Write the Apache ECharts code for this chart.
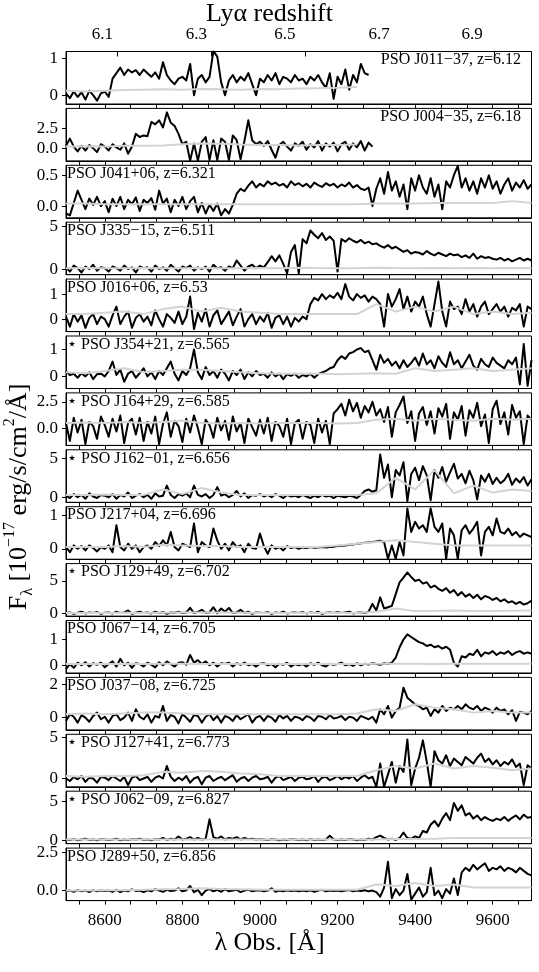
<!DOCTYPE html>
<html><head><meta charset="utf-8">
<script src="https://cdn.jsdelivr.net/npm/echarts@6/dist/echarts.min.js"></script>
<style>html,body{margin:0;padding:0;background:#fff}#c{width:539px;height:972px}</style>
</head><body><div id="c"></div>
<script>
// ---------------- data ----------------
const lambdaStart = 8500;      // first wavelength sample [Å]
const fluxStep = 10;           // flux sampling [Å]
const errStep = 50;            // error-spectrum sampling [Å]

const objectNames = ['PSO J011−37, z=6.12','PSO J004−35, z=6.18','PSO J041+06, z=6.321','PSO J335−15, z=6.511','PSO J016+06, z=6.53','⋆ PSO J354+21, z=6.565','⋆ PSO J164+29, z=6.585','⋆ PSO J162−01, z=6.656','PSO J217+04, z=6.696','⋆ PSO J129+49, z=6.702','PSO J067−14, z=6.705','PSO J037−08, z=6.725','⋆ PSO J127+41, z=6.773','⋆ PSO J062−09, z=6.827','PSO J289+50, z=6.856'];

const xLabelValues = [8600, 8800, 9000, 9200, 9400, 9600];
const zTickLabels = ['6.1','6.3','6.5','6.7','6.9'];
const zTickLambda = [8631, 8874, 9118, 9361, 9604];
const zLabelLambda = [8594, 8836, 9064, 9307, 9547];

const yRanges = [[-0.24,1.19],[-1.6,5.0],[-0.19,0.66],[-0.66,5.47],[-0.5,1.6],[-0.45,1.5],[-1.62,3.34],[-0.65,6.1],[-0.31,1.25],[-0.36,7.65],[-0.3,1.74],[-0.74,2.42],[-1.0,5.33],[-0.44,6.33],[-0.66,2.8]];
const yTickValues = [[0,1],[0,2.5],[0,0.5],[0,5],[0,1],[0,1],[0,2.5],[0,5],[0,1],[0,5],[0,1],[0,2],[0,5],[0,5],[0,2.5]];
const yTickDecimals = [0,1,1,0,0,0,1,0,0,0,0,0,0,0,1];

const flux_J011 = [
0.05,-0.08,0.1,-0.05,0.08,-0.12,0.12,0.0,-0.15,0.05,
0.1,-0.05,0.45,0.6,0.75,0.55,0.7,0.62,0.68,0.55,
0.7,0.6,0.5,0.62,0.45,0.9,0.55,0.4,0.3,0.45,
0.5,0.4,0.85,0.0,0.45,0.55,0.35,0.5,1.2,1.05,
0.35,0.0,0.4,0.55,0.35,0.5,0.4,0.6,0.3,0.0,
0.45,0.35,0.55,0.4,0.6,0.3,0.5,0.45,0.35,0.55,
0.4,0.45,0.3,0.5,0.4,0.55,0.35,0.2,0.6,-0.1,
0.5,0.3,0.7,0.15,0.55,0.35,0.85,0.6,0.55];
const flux_J004 = [
0.3,1.2,0.2,-0.4,0.3,-0.3,0.4,0.0,-0.5,0.5,
0.2,-0.3,0.5,0.1,-0.2,0.6,-0.7,0.2,1.8,1.4,
1.6,1.5,3.3,3.0,3.5,2.6,4.5,3.2,2.8,1.8,
0.5,0.8,-1.6,0.6,-1.6,0.8,1.4,-1.5,1.0,-1.5,
1.2,0.8,-1.5,1.6,1.0,-1.4,0.9,3.5,1.0,0.5,
0.8,0.3,0.9,-0.2,-1.2,0.4,0.8,0.2,-0.3,0.6,
0.3,0.8,-0.2,0.5,0.1,0.9,-0.3,0.6,0.2,0.7,
-0.4,0.5,0.8,-0.2,0.6,0.1,0.9,-0.3,0.7,0.2];
const flux_J041 = [
-0.12,-0.15,0.05,0.25,0.1,-0.05,0.12,0.02,0.15,0.0,
0.08,-0.1,0.12,0.0,0.15,-0.05,0.1,0.03,0.14,-0.08,
0.1,0.05,0.13,-0.06,0.25,0.04,0.12,-0.1,0.1,0.0,
0.15,-0.05,0.08,0.15,-0.1,0.05,-0.12,0.02,-0.08,0.04,
-0.15,-0.05,-0.12,0.02,0.2,0.28,0.24,0.33,0.4,0.3,
0.36,0.32,0.4,0.35,0.38,0.33,0.36,0.3,0.4,0.34,
0.37,0.32,0.36,0.3,0.38,0.34,0.31,0.37,0.33,0.36,
0.3,0.35,0.32,0.38,0.3,0.34,0.28,0.26,0.3,0.0,
0.28,0.45,0.2,0.55,0.25,0.4,0.15,0.35,-0.05,0.45,
0.25,0.5,0.3,0.2,0.45,0.15,0.35,-0.05,0.4,0.3,
0.5,0.65,0.3,0.45,0.25,0.4,0.2,0.45,0.3,0.5,
0.28,0.4,0.2,0.35,0.45,0.25,0.38,0.3,0.42,0.28,
0.35];
const flux_J335 = [
0.2,-0.3,0.4,0.1,-0.4,0.3,0.0,0.5,-0.2,0.2,
0.1,-0.3,0.3,0.1,-0.2,0.4,0.0,0.2,-0.4,0.3,
0.1,0.2,-0.3,0.4,0.0,0.2,-0.2,0.5,0.1,-0.3,
0.3,0.1,0.4,-0.2,0.2,0.0,0.3,-0.3,0.5,0.1,
0.2,-0.2,0.3,0.1,1.0,0.4,-0.2,0.3,0.5,0.1,
0.4,0.2,0.8,1.5,0.9,1.6,0.6,-0.5,2.0,2.8,
-0.5,3.5,3.0,4.5,4.0,3.6,4.2,3.4,3.8,3.3,
-0.3,3.5,3.2,3.6,3.3,3.1,3.4,3.0,3.2,2.9,
3.0,2.7,2.5,2.8,2.4,2.6,2.3,2.0,2.2,1.8,
2.0,1.9,1.7,2.1,1.8,1.6,1.9,1.7,1.5,1.8,
1.6,1.7,1.4,1.6,1.3,1.8,1.2,1.5,1.3,1.4,
1.2,1.1,1.3,1.0,1.2,0.9,1.1,1.3,1.0,1.2,
1.0];
const flux_J016 = [
0.1,-0.3,0.2,-0.1,0.15,-0.35,0.05,0.2,-0.2,0.1,
0.0,-0.3,0.15,0.5,-0.2,0.1,0.3,-0.35,0.05,0.2,
-0.1,0.1,-0.25,0.35,0.0,-0.3,0.2,0.05,-0.15,0.3,
-0.2,0.1,0.9,-0.4,0.25,-0.1,0.4,-0.3,0.15,0.35,
-0.2,0.05,0.3,-0.25,0.1,0.4,-0.3,0.0,0.2,-0.2,
0.1,-0.1,0.25,-0.35,0.05,0.15,-0.2,0.1,-0.3,0.05,
-0.1,0.1,0.0,0.6,0.85,0.75,1.0,0.8,0.95,0.85,
1.05,0.8,1.4,0.9,0.75,1.0,0.85,0.95,0.7,0.9,
0.8,0.6,-0.3,1.0,0.5,0.8,1.2,0.4,0.9,0.3,
0.7,0.5,0.9,0.2,-0.3,0.6,1.5,0.3,-0.3,0.7,
0.4,0.5,0.2,0.8,0.3,0.6,0.1,0.5,0.7,0.2,
0.4,0.6,0.3,0.5,0.1,0.45,0.35,0.6,-0.3,0.5,
0.4];
const flux_J354 = [
0.2,0.05,0.1,-0.05,0.12,0.0,0.15,-0.1,0.08,0.1,
0.0,0.2,0.55,0.05,0.25,-0.2,0.1,0.2,-0.05,0.12,
0.3,0.0,0.15,-0.1,0.2,0.05,0.3,0.55,0.1,-0.15,
0.2,0.05,0.3,1.0,0.15,-0.1,0.35,0.05,0.2,-0.05,
0.25,0.1,-0.15,0.2,0.05,0.25,-0.1,0.15,0.0,0.2,
0.05,0.1,-0.05,0.15,0.0,0.1,-0.1,0.08,0.02,0.1,
-0.05,0.05,0.0,0.1,-0.05,0.08,0.15,0.2,0.3,0.35,
0.6,0.75,0.65,0.85,0.9,1.0,1.05,0.9,0.95,0.6,
0.25,0.8,0.5,0.65,0.4,0.55,0.3,0.6,0.35,0.5,
0.7,0.4,0.85,0.45,0.6,0.3,0.75,0.5,0.35,0.9,
0.45,0.6,0.3,0.55,0.8,0.4,0.25,0.65,0.45,0.35,
0.7,0.5,0.4,0.3,0.6,0.45,0.7,-0.3,1.2,-0.35,
0.6];
const flux_J164 = [
0.5,-1.2,1.0,-0.4,0.8,-1.5,0.6,0.2,-1.0,1.1,
0.3,-0.8,0.9,-0.3,1.2,-1.4,0.5,0.9,-0.6,1.0,
-1.2,0.6,-0.5,1.1,-1.5,0.4,1.5,-0.8,0.7,0.2,
-1.3,0.9,-0.4,1.2,0.0,-1.5,0.8,0.3,-0.9,1.0,
-0.2,0.7,-1.1,1.1,-0.3,0.5,-1.4,0.9,0.1,-0.7,
0.8,-0.5,1.0,-1.2,0.6,0.2,-0.8,0.9,-1.5,0.5,
0.8,-1.0,0.6,0.3,-1.4,0.9,-0.4,0.7,-1.5,1.4,
1.8,2.3,1.2,2.7,1.6,2.4,1.0,2.1,1.5,2.5,
1.2,1.8,0.6,2.0,-0.8,1.5,2.2,3.0,0.5,1.6,
-1.2,1.4,2.0,0.3,1.6,-0.5,1.9,1.1,2.3,-1.0,
1.5,0.8,2.1,-0.7,1.7,1.0,2.4,0.2,1.3,-1.4,
1.8,2.6,0.4,1.5,-0.6,2.2,1.0,1.6,-1.5,1.2,
0.8];
const flux_J162 = [
0.2,-0.1,0.4,0.0,0.3,-0.2,0.5,0.1,-0.1,0.3,
0.2,0.0,0.4,-0.2,0.3,0.1,0.6,-0.1,0.2,0.4,
0.0,0.3,-0.2,0.5,0.1,0.2,1.5,0.3,-0.1,0.4,
0.2,0.5,0.0,1.5,0.3,0.1,0.4,-0.1,0.3,1.3,
0.2,0.4,0.0,0.3,0.8,0.1,0.5,-0.1,0.3,0.2,
0.4,0.1,0.3,0.0,0.4,0.2,-0.1,0.3,0.1,0.2,
0.0,0.3,0.1,-0.1,0.2,0.0,0.3,0.1,0.2,-0.1,
0.2,0.1,0.0,0.2,0.1,-0.1,0.3,0.8,1.0,0.7,
0.9,5.5,2.5,4.2,0.0,3.5,2.8,4.5,-0.5,3.0,
3.8,2.2,4.0,2.8,-0.4,3.5,2.5,3.9,2.0,3.2,
4.3,2.4,3.0,1.8,3.4,2.2,-0.3,2.8,2.0,3.0,
1.7,2.5,1.8,2.2,3.0,1.6,2.4,1.9,2.6,1.5,
2.3];
const flux_J217 = [
0.05,-0.1,0.1,0.0,0.08,-0.05,0.1,0.02,-0.08,0.05,
0.0,0.1,-0.1,0.7,0.05,-0.05,0.15,0.0,0.1,-0.1,
0.05,0.1,0.0,0.2,0.08,0.25,0.1,0.5,0.05,-0.05,
0.15,0.1,0.05,0.75,-0.1,0.2,0.1,0.05,0.6,0.25,
0.0,0.15,-0.05,0.2,0.05,0.1,-0.1,0.15,0.02,0.0,
0.45,0.08,-0.15,0.1,0.0,0.05,-0.05,0.08,0.02,0.05,
0.0,0.04,0.02,0.05,0.03,0.04,0.05,0.04,0.05,0.06,
0.08,0.09,0.1,0.12,0.13,0.15,0.16,0.18,0.19,0.2,
0.22,0.24,0.2,-0.3,0.1,-0.3,0.2,-0.2,1.2,0.5,
0.8,0.6,0.7,0.5,1.2,0.65,0.5,0.75,-0.3,0.6,
0.4,-0.3,0.55,0.7,0.45,0.6,0.8,-0.2,0.5,0.65,
0.4,0.9,0.5,0.45,0.6,0.4,0.5,0.35,0.45,0.4,
0.35];
const flux_J129 = [
0.1,0.2,0.0,0.15,0.3,0.05,0.2,0.1,0.25,0.0,
0.15,0.2,0.05,0.3,0.1,0.2,0.5,0.0,0.15,0.3,
0.1,0.2,0.05,0.3,0.1,0.25,0.0,0.2,0.15,0.3,
0.1,0.2,0.9,0.1,0.3,0.6,0.15,0.2,1.0,0.1,
0.8,0.3,0.9,0.1,0.2,0.6,0.1,0.3,0.0,0.2,
0.15,0.1,0.25,0.0,0.2,0.1,0.3,0.05,0.15,0.2,
0.1,0.25,0.05,0.2,0.1,0.3,0.0,0.15,0.2,0.1,
0.25,0.1,0.2,0.3,0.05,0.15,0.2,0.1,0.3,1.5,
0.5,2.5,0.8,1.0,1.2,3.0,4.8,5.5,6.3,5.6,
5.0,5.2,4.6,4.8,4.0,4.3,3.8,3.5,3.9,3.2,
3.6,2.8,3.3,2.6,3.0,2.4,2.9,2.2,2.7,2.5,
2.1,2.4,1.9,2.2,1.7,1.9,1.5,1.8,1.4,1.6,
2.0];
const flux_J067 = [
-0.15,0.05,-0.1,0.1,0.0,0.12,-0.05,0.08,0.02,0.1,
-0.08,0.05,0.15,-0.05,0.25,0.0,0.1,-0.1,0.08,0.05,
-0.05,0.1,0.02,-0.08,0.12,0.0,0.15,0.05,-0.05,0.1,
0.12,0.02,0.4,0.1,0.2,0.05,0.15,0.0,0.1,-0.05,
0.08,0.05,0.1,-0.05,0.08,0.02,0.1,0.0,0.05,-0.05,
0.06,0.08,0.0,0.05,-0.08,0.06,0.02,0.1,-0.05,0.05,
0.0,0.05,-0.05,0.08,0.02,0.1,0.0,-0.05,0.06,0.02,
0.05,0.1,0.0,0.05,-0.02,0.08,0.0,0.06,0.03,0.08,
0.05,0.02,0.08,0.05,0.1,0.3,0.7,1.0,1.2,1.1,
1.0,0.9,0.85,0.75,0.8,0.7,0.75,0.65,0.72,0.6,
0.1,-0.05,0.35,0.3,0.45,0.4,0.6,0.35,0.5,0.45,
0.55,0.4,0.5,0.45,0.55,0.4,0.5,0.55,0.45,0.5,
0.45];
const flux_J037 = [
-0.2,0.2,0.05,-0.3,0.15,0.0,-0.25,0.1,0.3,-0.1,
0.05,-0.3,0.1,0.2,-0.15,0.0,0.3,-0.2,0.5,0.05,
-0.1,0.2,-0.3,0.1,0.0,0.7,-0.2,0.15,0.05,-0.35,
0.2,0.0,-0.25,0.15,0.1,-0.3,0.05,0.2,-0.15,0.1,
-0.3,0.1,0.0,-0.2,0.15,-0.1,0.05,0.2,-0.3,0.0,
0.1,-0.2,0.1,0.0,-0.25,0.15,-0.05,0.1,-0.2,0.05,
0.0,-0.15,0.1,0.0,-0.2,0.1,0.05,-0.1,0.15,-0.05,
0.0,0.1,-0.15,0.05,0.0,-0.2,0.1,0.0,-0.1,0.05,
-0.3,0.5,0.2,0.7,0.0,0.4,0.6,1.8,1.2,1.0,
0.8,0.7,0.5,0.6,0.1,0.5,0.3,0.7,0.4,0.6,
0.5,0.7,0.5,0.8,0.6,0.5,0.7,0.4,0.6,0.5,
0.3,0.6,0.4,0.5,0.2,0.45,-0.2,0.35,0.3,0.2,
0.4];
const flux_J127 = [
0.0,-0.3,0.2,-0.1,0.3,-0.4,0.1,0.0,-0.5,0.2,
0.1,-0.2,0.3,0.0,-0.3,0.2,-0.8,0.1,0.3,-0.2,
0.0,0.2,-0.4,0.1,0.3,0.0,1.5,0.2,-0.3,0.1,
-0.2,0.3,-0.5,0.0,0.2,-0.7,0.1,0.3,-0.3,0.0,
0.2,-0.2,0.1,0.4,-0.4,0.0,0.2,-0.3,0.1,0.3,
-0.1,0.0,0.2,-0.5,0.1,0.3,-0.2,0.0,0.2,-0.3,
0.1,0.2,-0.1,0.0,0.3,-0.4,0.1,0.2,-0.2,0.0,
0.3,-0.1,0.2,0.0,0.3,-0.3,0.1,0.4,0.0,0.2,
-1.0,1.8,-1.0,0.5,2.0,-0.5,1.5,0.8,4.7,-0.8,
1.2,2.5,4.6,2.0,-1.0,3.3,2.2,1.8,2.8,1.5,
2.4,2.0,1.6,2.6,2.2,1.8,2.5,3.0,2.0,2.4,
1.7,2.2,1.5,2.0,1.7,2.3,1.4,1.8,-0.8,1.6,
1.2];
const flux_J062 = [
0.1,0.05,0.15,0.0,0.1,0.2,0.05,0.1,0.0,0.15,
0.1,0.05,0.1,0.2,0.0,0.1,0.05,0.15,0.1,0.2,
0.05,0.1,0.0,0.15,0.1,0.3,0.05,0.2,0.1,0.5,
0.1,0.2,0.4,0.1,0.3,0.1,0.2,2.7,0.4,0.2,
0.5,0.1,0.3,0.2,0.4,0.1,0.3,0.15,0.2,0.1,
0.15,0.1,0.05,0.15,0.1,0.0,0.1,0.05,0.15,0.1,
0.05,0.1,0.0,0.15,0.05,0.1,0.05,0.1,0.6,0.1,
0.05,0.1,0.05,0.15,0.1,0.0,0.1,0.05,0.2,0.1,
0.4,0.6,0.3,0.1,0.2,0.05,0.3,1.0,0.3,0.2,
0.5,0.3,1.2,1.0,2.0,2.5,1.8,2.8,3.5,2.6,
4.8,3.8,4.5,3.2,3.5,2.8,3.2,2.6,3.0,2.7,
2.5,2.8,2.6,3.0,2.5,2.9,3.2,2.7,3.3,2.9,
3.0];
const flux_J289 = [
-0.05,0.0,-0.08,0.02,-0.05,0.0,-0.1,0.03,-0.05,0.0,
-0.03,0.0,-0.08,0.05,-0.1,0.0,-0.05,0.08,-0.02,0.0,
-0.1,0.02,-0.05,0.1,0.0,-0.08,0.05,-0.03,0.0,0.15,
-0.05,0.02,0.3,-0.1,0.05,-0.3,0.0,0.1,-0.05,0.05,
-0.08,0.1,-0.05,0.0,0.05,-0.1,0.0,0.05,-0.05,0.0,
0.02,-0.05,0.0,0.15,-0.08,0.0,-0.05,0.02,-0.03,0.0,
-0.05,0.0,-0.05,0.02,-0.08,0.0,0.05,-0.05,0.0,-0.02,
0.0,-0.05,0.0,0.03,-0.05,0.0,-0.03,0.02,-0.05,0.0,
-0.1,-0.4,0.2,1.9,-0.5,0.1,-0.3,0.0,1.1,-0.6,
-0.2,0.2,-0.4,-0.1,1.5,-0.3,0.0,-0.5,0.1,-0.2,
0.8,-0.3,1.2,1.5,1.3,1.7,1.4,1.6,1.8,1.3,
1.5,1.4,1.6,1.3,1.5,1.4,1.2,1.5,1.3,1.1,
1.0];

const err_J011 = [0.12,0.1,0.12,0.14,0.15,0.16,0.15,0.17,0.16,0.15,0.17,0.16,0.18,0.19,0.2,0.22];
const err_J004 = [0.2,0.25,0.2,0.3,0.3,0.35,0.5,0.6,0.55,0.45,0.4,0.4,0.35,0.4,0.4,0.45];
const err_J041 = [0.04,0.04,0.03,0.03,0.03,0.03,0.03,0.03,0.03,0.03,0.03,0.03,0.03,0.03,0.03,0.03,0.04,0.04,0.04,0.05,0.05,0.05,0.05,0.08,0.05];
const err_J335 = [0.1,0.12,0.1,0.1,0.12,0.1,0.1,0.12,0.1,0.1,0.12,0.1,0.15,0.12,0.1,0.1,0.15,0.12,0.1,0.12,0.1,0.12,0.1,0.12,0.1];
const err_J016 = [0.2,0.2,0.25,0.3,0.2,0.4,0.5,0.3,0.45,0.3,0.25,0.2,0.2,0.2,0.2,0.2,0.6,0.3,0.5,0.3,0.5,0.2,0.3,0.2,0.25];
const err_J354 = [0.15,0.12,0.2,0.3,0.15,0.2,0.25,0.25,0.2,0.15,0.12,0.1,0.1,0.1,0.08,0.1,0.12,0.1,0.3,0.2,0.25,0.3,0.2,0.25,0.3];
const err_J164 = [0.5,0.55,0.5,0.6,0.5,0.6,0.7,0.5,0.45,0.5,0.45,0.5,0.5,0.5,0.45,0.5,0.8,0.9,0.7,0.9,0.8,0.7,0.9,0.8,0.9];
const err_J162 = [0.3,0.3,0.35,0.3,0.3,1.0,0.4,1.2,0.6,0.3,0.3,0.3,0.3,0.3,0.3,0.3,0.5,2.5,1.0,3.5,0.5,1.5,0.6,1.0,0.8];
const err_J217 = [0.05,0.05,0.05,0.08,0.05,0.12,0.1,0.08,0.08,0.05,0.05,0.05,0.05,0.05,0.1,0.15,0.2,0.25,0.2,0.15,0.1,0.1,0.1,0.1,0.1];
const err_J129 = [0.1,0.1,0.1,0.15,0.1,0.15,0.2,0.2,0.2,0.15,0.1,0.1,0.1,0.1,0.1,0.1,0.3,0.8,0.4,0.4,0.5,0.4,0.4,0.45,0.5];
const err_J067 = [0.05,0.05,0.05,0.06,0.05,0.06,0.06,0.05,0.05,0.05,0.05,0.05,0.05,0.05,0.05,0.05,0.06,0.06,0.06,0.05,0.06,0.06,0.06,0.06,0.06];
const err_J037 = [0.2,0.25,0.2,0.25,0.3,0.3,0.25,0.2,0.2,0.2,0.2,0.2,0.2,0.2,0.2,0.25,0.5,0.4,0.8,0.6,0.5,0.3,0.4,0.3,0.3];
const err_J127 = [0.3,0.2,0.3,0.3,0.4,0.8,0.7,0.9,0.8,0.6,0.5,0.3,0.3,0.3,0.3,0.3,1.0,1.5,1.2,1.8,1.2,1.5,1.3,1.0,1.2];
const err_J062 = [0.1,0.1,0.1,0.1,0.1,0.1,0.1,0.1,0.1,0.1,0.1,0.1,0.1,0.1,0.1,0.1,0.1,0.15,0.15,0.2,0.3,0.3,0.3,0.3,0.3];
const err_J289 = [0.0,0.0,0.02,0.03,0.05,0.08,0.1,0.15,0.1,0.08,0.05,0.05,0.05,0.05,0.05,0.05,0.4,0.3,0.5,0.3,0.4,0.2,0.2,0.2,0.2];

const fluxes = [flux_J011,flux_J004,flux_J041,flux_J335,flux_J016,flux_J354,flux_J164,flux_J162,flux_J217,flux_J129,flux_J067,flux_J037,flux_J127,flux_J062,flux_J289];
const errors = [err_J011,err_J004,err_J041,err_J335,err_J016,err_J354,err_J164,err_J162,err_J217,err_J129,err_J067,err_J037,err_J127,err_J062,err_J289];

// ---------------- layout ----------------
const FONT = "'Liberation Serif','DejaVu Serif',serif";
const LEFT = 66, RIGHT = 7.5, TOP0 = 51.5, PITCH = 56.9, H = 52.5;
const N = objectNames.length;
const xTickValues = [];
for (let k = 0; k < 18; k++) xTickValues.push(8533.333 + k * 200 / 3);

const grids = [], xAxes = [], yAxes = [], series = [], titles = [];
for (let i = 0; i < N; i++) {
  const top = TOP0 + PITCH * i;
  grids.push({left: LEFT, right: RIGHT, top: top, height: H, show: true, borderColor: '#000', borderWidth: 1, backgroundColor: 'rgba(0,0,0,0)', containLabel: false, outerBoundsMode: 'none'});
  xAxes.push({
    type: 'value', gridIndex: i, min: 8500, max: 9700, position: 'bottom',
    axisLine: {show: true, onZero: false, lineStyle: {color: '#000', width: 1}},
    axisTick: {show: true, inside: false, length: 4, customValues: xTickValues, lineStyle: {color: '#000', width: 1}},
    axisLabel: {show: i === N - 1, customValues: xLabelValues, margin: 11, color: '#000', fontFamily: FONT, fontSize: 17, formatter: v => String(Math.round(v))},
    splitLine: {show: false}, minorTick: {show: false}
  });
  const dec = yTickDecimals[i];
  yAxes.push({
    type: 'value', gridIndex: i, min: yRanges[i][0], max: yRanges[i][1],
    axisLine: {show: true, onZero: false, lineStyle: {color: '#000', width: 1}},
    axisTick: {show: true, inside: false, length: 4, customValues: yTickValues[i], lineStyle: {color: '#000', width: 1}},
    axisLabel: {show: true, customValues: yTickValues[i], margin: 8, color: '#000', fontFamily: FONT, fontSize: 17, formatter: v => Number(v).toFixed(dec)},
    splitLine: {show: false}
  });
  const fl = fluxes[i].map((v, k) => [lambdaStart + k * fluxStep, v]);
  const er = errors[i].map((v, k) => [lambdaStart + k * errStep, v]);
  series.push({type: 'line', xAxisIndex: i, yAxisIndex: i, data: fl, symbol: 'none', showSymbol: false, silent: true, clip: true,
    lineStyle: {color: '#000', width: 2, join: 'round'}, z: 2});
  series.push({type: 'line', xAxisIndex: i, yAxisIndex: i, data: er, symbol: 'none', showSymbol: false, silent: true, clip: true,
    lineStyle: {color: '#d3d3d3', width: 2}, z: 3});
  const t = {text: objectNames[i], top: top + 0.5, padding: 0,
    textStyle: {color: '#000', fontFamily: FONT, fontSize: 16, fontWeight: 'normal'}};
  if (i < 2) t.right = 18; else t.left = 67;
  titles.push(t);
}
// figure-level axis titles
titles.push({text: 'Lyα redshift', left: 'center', top: 1, padding: 0,
  textStyle: {color: '#000', fontFamily: FONT, fontSize: 26, fontWeight: 'normal'}});
titles.push({text: 'λ Obs. [Å]', left: 'center', top: 930, padding: 0,
  textStyle: {color: '#000', fontFamily: FONT, fontSize: 26, fontWeight: 'normal'}});

// top redshift axis on the first panel
xAxes.push({
  type: 'value', gridIndex: 0, min: 8500, max: 9700, position: 'top',
  axisLine: {show: false, onZero: false},
  axisTick: {show: true, inside: true, length: 5, customValues: zTickLambda, lineStyle: {color: '#000', width: 1}},
  axisLabel: {show: true, customValues: zLabelLambda, margin: 8, color: '#000', fontFamily: FONT, fontSize: 17,
    formatter: v => { let b = 0; for (let k = 1; k < zLabelLambda.length; k++) if (Math.abs(zLabelLambda[k] - v) < Math.abs(zLabelLambda[b] - v)) b = k; return zTickLabels[b]; }},
  splitLine: {show: false}
});

const chart = echarts.init(document.getElementById('c'), null, {renderer: 'canvas'});
chart.setOption({
  animation: false,
  backgroundColor: '#fff',
  title: titles,
  grid: grids,
  xAxis: xAxes,
  yAxis: yAxes,
  series: series,
  graphic: [{
    type: 'text', x: 19, y: 497, rotation: Math.PI / 2,
    style: {
      text: '{t|F}{s|λ}{t| [10}{p|−17}{t| erg/s/cm}{p|2}{t|/Å]}',
      align: 'center', verticalAlign: 'middle',
      rich: {
        t: {fontFamily: FONT, fontSize: 26, fill: '#000', lineHeight: 34, verticalAlign: 'middle'},
        s: {fontFamily: FONT, fontSize: 16, fill: '#000', lineHeight: 34, verticalAlign: 'bottom'},
        p: {fontFamily: FONT, fontSize: 16, fill: '#000', lineHeight: 34, verticalAlign: 'top'}
      }
    }
  }]
});
</script></body></html>
